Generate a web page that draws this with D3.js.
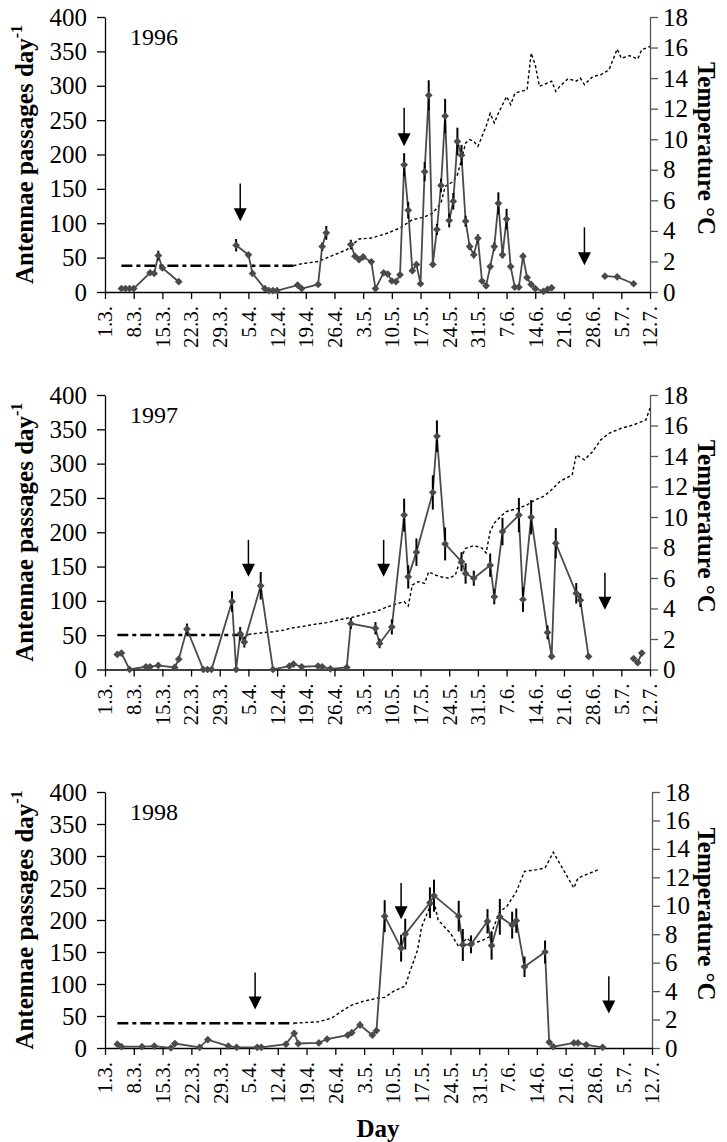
<!DOCTYPE html>
<html>
<head>
<meta charset="utf-8">
<script src="https://cdn.jsdelivr.net/npm/d3@7"></script>
<style>
  body { margin: 0; background: #fff; }
  svg text { font-family: "Liberation Serif", "Times New Roman", serif; }
</style>
</head>
<body>
<div id="chart"></div>
<script>
// Define SVG area dimensions
var svgWidth = 727;
var svgHeight = 1142;

// x axis: one tick per week, day 0 = 1 March
var tickDays = [0, 7, 14, 21, 28, 35, 42, 49, 56, 63, 70, 77, 84, 91, 98, 105, 112, 119, 126, 133];
var tickLabels = ["1.3.", "8.3.", "15.3.", "22.3.", "29.3.", "5.4.", "12.4.", "19.4.", "26.4.", "3.5.",
  "10.5.", "17.5.", "24.5.", "31.5.", "7.6.", "14.6.", "21.6.", "28.6.", "5.7.", "12.7."];
var countTicks = [0, 50, 100, 150, 200, 250, 300, 350, 400];
var tempTicks = [0, 2, 4, 6, 8, 10, 12, 14, 16, 18];

// 1996 antennae passages (null = gap in the record)
var days96 = [4, 5, 6, 7, 11, 12, 13, 14, 18, 25, 32, 35, 36, 39, 40, 41, 42, 47, 48, 52, 53, 54, 57,
  60, 61, 62, 63, 65, 66, 68, 69, 70, 71, 72, 73, 74, 75, 76, 77, 78, 79, 80, 81, 82, 83, 84, 85, 86, 87,
  88, 89, 90, 91, 92, 93, 94, 95, 96, 97, 98, 99, 100, 101, 102, 103, 104, 105, 107, 108, 109, 115, 122, 125, 129];
var counts96 = [5, 5, 5, 5, 28, 27, 53, 35, 15, null, 68, 54, 27, 5, 2, 2, 2, 10, 5, 11, 66, 86, null,
  69, 52, 47, 51, 44, 5, 28, 26, 16, 15, 25, 185, 119, 31, 40, 12, 175, 286, 40, 91, 155, 256, 104, 132, 219, 199,
  103, 66, 54, 78, 16, 9, 37, 66, 129, 54, 106, 37, 7, 7, 52, 21, 11, 5, 1, 4, 6, null, 23, 22, 12];
var err96 = [0, 0, 0, 0, 3, 3, 7, 3, 2, 0, 9, 4, 3, 1, 0, 0, 0, 1, 1, 2, 6, 10, 0,
  7, 4, 4, 4, 4, 1, 3, 3, 2, 2, 3, 17, 12, 4, 4, 2, 14, 22, 4, 8, 10, 25, 10, 12, 20, 15,
  8, 5, 5, 6, 2, 1, 4, 6, 16, 5, 15, 4, 1, 1, 5, 3, 1, 1, 0, 0, 1, 0, 2, 2, 1];
var flat96 = [4, 46, 1.72];
var tempDays96 = [46, 48, 52, 56, 59, 62, 65, 69, 72, 75, 78, 80, 82, 83, 85, 86, 87, 88, 89, 90, 91, 93, 94,
  95, 96, 98, 99, 100, 101, 103, 104, 105, 106, 108, 109, 110, 111, 113, 115, 116, 117, 119, 121, 123, 125,
  126, 128, 130, 131, 133];
var temp96 = [1.72, 1.85, 2.0, 2.44, 2.77, 3.47, 3.53, 3.86, 4.19, 4.73, 4.91, 5.17, 5.83, 6.91, 7.24, 7.68,
  8.66, 9.75, 9.97, 9.86, 9.53, 10.84, 11.7, 11.06, 11.7, 12.8, 12.26, 13.0, 13.1, 13.24, 15.64, 14.87, 13.46,
  13.68, 13.8, 13.13, 13.46, 13.96, 13.8, 14.0, 13.57, 14.1, 14.22, 14.55, 15.9, 15.3, 15.47, 15.25, 15.86, 16.07];
var arrows96 = [[33, 158, 103], [73, 268, 212], [117, 94, 39]];

// 1997
var days97 = [3, 4, 6, 10, 11, 13, 17, 18, 20, 24, 25, 26, 31, 32, 33, 34, 38, 41, 45, 46, 48, 52, 53, 55,
  59, 60, 66, 67, 70, 73, 74, 76, 80, 81, 83, 87, 88, 90, 94, 95, 97, 101, 102, 104, 108, 109, 110,
  115, 116, 118, 124, 129, 130, 131];
var counts97 = [22, 24, 0, 4, 4, 6, 3, 15, 59, 0, 0, 0, 99, 0, 52, 40, 122, 0, 5, 8, 4, 5, 4, 1,
  3, 67, 60, 38, 62, 225, 135, 171, 258, 340, 183, 157, 140, 133, 152, 106, 201, 225, 102, 222, 54, 19, 184,
  111, 101, 19, null, 16, 10, 24];
var err97 = [2, 2, 0, 0, 0, 0, 0, 3, 8, 0, 0, 0, 15, 0, 10, 8, 20, 0, 1, 1, 1, 1, 1, 0,
  1, 8, 9, 7, 11, 24, 17, 20, 25, 23, 24, 14, 15, 11, 17, 11, 20, 25, 18, 25, 10, 3, 22,
  15, 10, 3, 0, 2, 2, 4];
var flat97 = [3, 35, 2.26];
var tempDays97 = [35, 37, 41, 44, 45, 48, 51, 54, 57, 61, 64, 66, 69, 71, 73, 74, 75, 76.5, 78, 79, 80.5, 82,
  84, 85.5, 87, 88, 90, 91, 92, 93, 94, 95, 97, 98, 101, 103, 105, 107, 109, 111, 114, 115, 117, 119, 121,
  123, 126, 129, 132, 133];
var temp97 = [2.3, 2.37, 2.48, 2.59, 2.7, 2.81, 2.96, 3.07, 3.25, 3.46, 3.68, 3.79, 4.12, 4.29, 4.45, 4.16,
  5.54, 5.76, 5.65, 6.41, 6.2, 6.08, 5.98, 6.2, 7.4, 7.95, 8.12, 8.05, 7.96, 7.64, 9.06, 9.6, 10.15, 10.36,
  10.58, 10.8, 11.13, 11.35, 11.78, 12.33, 12.76, 14.07, 13.75, 14.29, 15.06, 15.49, 15.82, 16.04, 16.37, 17.13];
var arrows97 = [[35, 189, 135], [68, 189, 135], [122, 141, 87]];

// 1998
var days98 = [3, 4, 9, 12, 16, 17, 23, 25, 30, 32, 37, 38, 44, 46, 47, 52, 54, 59, 60, 62, 65, 66, 68,
  72, 73, 79, 80, 86, 87, 89, 93, 94, 96, 99, 100, 102, 107, 108, 109, 114, 115, 117, 121];
var counts98 = [6, 2, 2, 3, 0, 7, 1, 13, 3, 1, 1, 1, 6, 23, 7, 8, 14, 20, 24, 36, 20, 27, 206,
  156, 178, 227, 238, 206, 161, 162, 198, 160, 205, 192, 199, 127, 150, 9, 2, 8, 8, 5, 1];
var err98 = [2, 0, 0, 0, 0, 1, 0, 2, 0, 0, 0, 0, 1, 4, 1, 1, 2, 3, 3, 5, 3, 3, 25,
  21, 24, 24, 25, 24, 25, 14, 19, 22, 28, 21, 19, 16, 18, 2, 0, 1, 1, 1, 0];
var flat98 = [3, 46, 1.74];
var tempDays98 = [46, 52, 55, 58, 60, 63, 66, 68, 70, 73, 74, 76, 77, 79, 80, 81, 84, 86, 88, 89.5, 92, 93.6,
  96, 97.7, 100, 102, 105, 107, 109, 114, 115, 117, 120];
var temp98 = [1.74, 1.85, 2.09, 2.67, 3.02, 3.3, 3.49, 3.56, 3.96, 4.36, 5.25, 6.89, 8.53, 9.93, 10.3, 9.0,
  8.07, 7.13, 7.72, 7.36, 7.6, 7.84, 9.6, 9.95, 11.0, 12.42, 12.54, 12.66, 13.76, 11.25, 11.95, 12.19, 12.54];
var arrows98 = [[36.5, 118, 60], [72, 258, 201], [122.5, 112, 54]];

var panels = [
  { year: "1996", days: days96, counts: counts96, errs: err96, flat: flat96, tDays: tempDays96, temps: temp96,
    arrows: arrows96, left: 105, right: 650, top: 17, bottom: 292 },
  { year: "1997", days: days97, counts: counts97, errs: err97, flat: flat97, tDays: tempDays97, temps: temp97,
    arrows: arrows97, left: 105, right: 650, top: 395, bottom: 669.5 },
  { year: "1998", days: days98, counts: counts98, errs: err98, flat: flat98, tDays: tempDays98, temps: temp98,
    arrows: arrows98, left: 105, right: 652, top: 792, bottom: 1048 }
];

var svg = d3.select("#chart")
  .append("svg")
  .attr("width", svgWidth)
  .attr("height", svgHeight);

function drawPanel(p) {
  var x = d3.scaleLinear().domain([0, 133]).range([p.left, p.right]);
  var y = d3.scaleLinear().domain([0, 400]).range([p.bottom, p.top]);
  var yT = d3.scaleLinear().domain([0, 18]).range([p.bottom, p.top]);
  var g = svg.append("g");

  // left axis
  var leftAxis = g.append("g")
    .attr("transform", `translate(${p.left},0)`)
    .call(d3.axisLeft(y).tickValues(countTicks).tickSize(8).tickSizeOuter(0).tickPadding(10));
  leftAxis.selectAll("text").style("font-size", "25px").attr("fill", "#000");
  leftAxis.selectAll("path, line").attr("stroke", "#000").attr("stroke-width", 1.3);

  // right axis
  var rightAxis = g.append("g")
    .attr("transform", `translate(${p.right},0)`)
    .call(d3.axisRight(yT).tickValues(tempTicks).tickSize(8).tickSizeOuter(0).tickPadding(5));
  rightAxis.selectAll("text").style("font-size", "25px").attr("fill", "#000");
  rightAxis.selectAll("path, line").attr("stroke", "#555").attr("stroke-width", 1.3);

  // bottom axis with rotated labels
  var bottomAxis = g.append("g")
    .attr("transform", `translate(0,${p.bottom})`)
    .call(d3.axisBottom(x).tickValues(tickDays).tickSize(7).tickSizeOuter(0)
      .tickFormat((d, i) => tickLabels[i]));
  bottomAxis.selectAll("path, line").attr("stroke", "#000").attr("stroke-width", 1.3);
  bottomAxis.selectAll("text")
    .style("font-size", "21px")
    .attr("fill", "#000")
    .attr("transform", "rotate(-90)")
    .attr("x", -14)
    .attr("y", 0)
    .attr("dy", "0.33em")
    .style("text-anchor", "end");

  // temperature: constant part (dash-dot) and measured part (dotted)
  g.append("line")
    .attr("x1", x(p.flat[0])).attr("x2", x(p.flat[1]))
    .attr("y1", yT(p.flat[2])).attr("y2", yT(p.flat[2]))
    .attr("stroke", "#000").attr("stroke-width", 2.6)
    .attr("stroke-dasharray", "11,4,4,4");

  var tempLine = d3.line()
    .x(d => x(d[0]))
    .y(d => yT(d[1]));
  g.append("path")
    .datum(p.tDays.map((d, i) => [d, p.temps[i]]))
    .attr("d", tempLine)
    .attr("fill", "none")
    .attr("stroke", "#000")
    .attr("stroke-width", 1.4)
    .attr("stroke-dasharray", "3,2.5");

  // passages
  var pts = p.days.map((d, i) => ({ day: d, v: p.counts[i], e: p.errs[i] }));
  var countLine = d3.line()
    .defined(d => d.v !== null)
    .x(d => x(d.day))
    .y(d => y(d.v));
  g.append("path")
    .datum(pts)
    .attr("d", countLine)
    .attr("fill", "none")
    .attr("stroke", "#4a4a4a")
    .attr("stroke-width", 1.8);

  var valid = pts.filter(d => d.v !== null);
  g.selectAll(".err")
    .data(valid.filter(d => d.e > 0))
    .enter()
    .append("line")
    .attr("x1", d => x(d.day)).attr("x2", d => x(d.day))
    .attr("y1", d => y(d.v + d.e)).attr("y2", d => y(Math.max(0, d.v - d.e)))
    .attr("stroke", "#000")
    .attr("stroke-width", 2);

  g.selectAll(".pt")
    .data(valid)
    .enter()
    .append("path")
    .attr("d", d3.symbol().type(d3.symbolSquare).size(30))
    .attr("transform", d => `translate(${x(d.day)},${y(d.v)}) rotate(45)`)
    .attr("fill", "#4a4a4a");

  // arrows
  p.arrows.forEach(function(a) {
    var ax = x(a[0]);
    var tip = y(a[2]);
    g.append("line")
      .attr("x1", ax).attr("x2", ax)
      .attr("y1", y(a[1])).attr("y2", tip - 10)
      .attr("stroke", "#000").attr("stroke-width", 1.5);
    g.append("path")
      .attr("d", `M${ax - 6.5},${tip - 13} L${ax + 6.5},${tip - 13} L${ax},${tip} Z`)
      .attr("fill", "#000");
  });

  // year
  g.append("text")
    .attr("x", 130)
    .attr("y", p.top + 28)
    .style("font-size", "24px")
    .text(p.year);

  // axis titles
  var yTitle = g.append("text")
    .attr("transform", `translate(33,${(p.top + p.bottom) / 2}) rotate(-90)`)
    .attr("text-anchor", "middle")
    .style("font-size", "25px")
    .style("font-weight", "bold");
  yTitle.append("tspan").text("Antennae passages day");
  yTitle.append("tspan").attr("dy", -11).style("font-size", "16px").text("-1");

  g.append("text")
    .attr("transform", `translate(698,${(p.top + p.bottom) / 2 - 6}) rotate(90)`)
    .attr("text-anchor", "middle")
    .style("font-size", "25px")
    .style("font-weight", "bold")
    .text("Temperature °C");
}

panels.forEach(drawPanel);

svg.append("text")
  .attr("x", 378)
  .attr("y", 1137)
  .attr("text-anchor", "middle")
  .style("font-size", "25px")
  .style("font-weight", "bold")
  .text("Day");
</script>
</body>
</html>
